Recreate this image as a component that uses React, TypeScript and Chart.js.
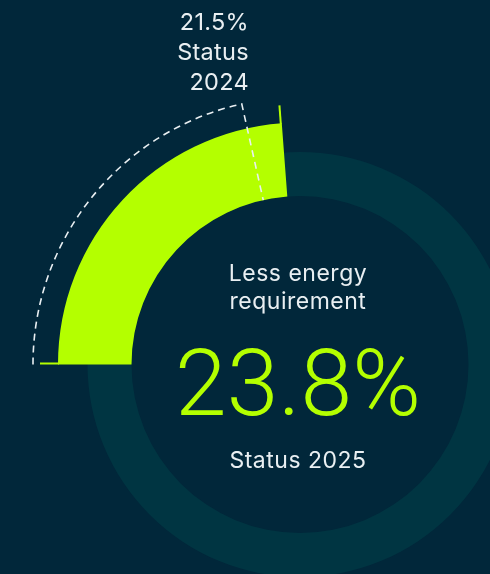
import React, { useEffect, useRef } from "react";
import { Chart, registerables } from "chart.js";

Chart.register(...registerables);

// ---- data ----
const YEARS = ["2024", "2025"];
const REDUCTION_PCT = [21.5, 23.8];
const FULL_SCALE = [100];
const CENTER_TITLE = ["Less energy", "requirement"];

// ---- styles ----
const BG = "#01273a";
const TRACK = "#003542";
const LIME = "#b4ff00";
const TEXT = "#e9eff2";
const FONT = "Inter, 'Open Sans', sans-serif";
const BIG_FONT = "Roboto, Inter, sans-serif";

// ring geometry (px)
const INNER_R = 168.5;
const OUTER_R = [267, 242, 212.5]; // 2024 outline, 2025 arc, track

export default function App() {
  const ref = useRef<HTMLCanvasElement>(null);

  useEffect(() => {
    if (!ref.current) return;
    // weights / radii so that all rings share the same inner radius
    const f0 = (OUTER_R[0] - INNER_R) / OUTER_R[0];
    const r1 = OUTER_R[1] / (1 - f0);
    const f01 = 1 - INNER_R / r1;
    const f1 = f01 - f0;
    const f2 = 1 - f01;
    const r2 = (OUTER_R[2] - INNER_R * f01) / (1 - f01);
    const c2 = INNER_R / r2;

    const outlinePlugin = {
      id: "outline",
      afterDatasetsDraw(chart: any) {
        const ctx = chart.ctx;
        const keys = ["x", "y", "startAngle", "endAngle", "innerRadius", "outerRadius"];
        const p = chart.getDatasetMeta(0).data[0].getProps(keys, true);
        ctx.save();
        ctx.setLineDash([7, 5]);
        ctx.lineWidth = 1.6;
        ctx.strokeStyle = TEXT;
        ctx.beginPath();
        ctx.arc(p.x, p.y, p.outerRadius, p.startAngle, p.endAngle);
        ctx.lineTo(p.x + Math.cos(p.endAngle) * p.innerRadius, p.y + Math.sin(p.endAngle) * p.innerRadius);
        ctx.stroke();
        ctx.restore();

        const g = chart.getDatasetMeta(1).data[0].getProps(keys, true);
        ctx.save();
        ctx.lineWidth = 2;
        ctx.strokeStyle = LIME;
        const edges: [number, number][] = [
          [g.startAngle, 1],
          [g.endAngle, -1],
        ];
        edges.forEach(([a, s]) => {
          const nx = -Math.sin(a) * s;
          const ny = Math.cos(a) * s;
          const r0 = g.outerRadius - 1;
          const r1e = g.outerRadius + 18;
          ctx.beginPath();
          ctx.moveTo(p.x + Math.cos(a) * r0 + nx, p.y + Math.sin(a) * r0 + ny);
          ctx.lineTo(p.x + Math.cos(a) * r1e + nx, p.y + Math.sin(a) * r1e + ny);
          ctx.stroke();
        });
        ctx.restore();
      },
    };

    const chart = new Chart(ref.current, {
      type: "doughnut",
      data: {
        labels: ["reduction", "rest"],
        datasets: [
          {
            label: "Status " + YEARS[0],
            data: [REDUCTION_PCT[0], FULL_SCALE[0] - REDUCTION_PCT[0]],
            backgroundColor: ["rgba(0,0,0,0)", "rgba(0,0,0,0)"],
            borderWidth: 0,
            weight: f0,
            radius: OUTER_R[0],
            cutout: 0,
          } as any,
          {
            label: "Status " + YEARS[1],
            data: [REDUCTION_PCT[1], FULL_SCALE[0] - REDUCTION_PCT[1]],
            backgroundColor: [LIME, "rgba(0,0,0,0)"],
            borderWidth: 0,
            weight: f1,
            radius: r1,
            cutout: 0,
          } as any,
          {
            label: "track",
            data: FULL_SCALE,
            backgroundColor: [TRACK],
            borderWidth: 0,
            weight: f2,
            radius: r2,
            cutout: c2 * 100 + "%",
          } as any,
        ],
      },
      options: {
        responsive: false,
        animation: false,
        devicePixelRatio: 1,
        rotation: -90,
        events: [],
        layout: { padding: { left: 110, top: 155, right: 0, bottom: 0 } },
        plugins: { legend: { display: false }, tooltip: { enabled: false } },
      } as any,
      plugins: [outlinePlugin],
    });
    return () => chart.destroy();
  }, []);

  const txt: React.CSSProperties = {
    position: "absolute",
    color: TEXT,
    fontFamily: FONT,
    whiteSpace: "nowrap",
  };

  return (
    <div style={{ position: "fixed", left: 0, top: 0, width: 490, height: 574, background: BG, overflow: "hidden" }}>
      <canvas ref={ref} width={490} height={574} style={{ position: "absolute", left: 0, top: 0 }} />
      <div style={{ ...txt, right: 241, top: 7, fontSize: 23.5, lineHeight: "30px", textAlign: "right", letterSpacing: 0.3 }}>
        <div>{REDUCTION_PCT[0]}%</div>
        <div>Status</div>
        <div>{YEARS[0]}</div>
      </div>
      <div style={{ ...txt, left: 148, width: 300, top: 259, fontSize: 23, lineHeight: "28px", textAlign: "center", letterSpacing: 0.5 }}>
        {CENTER_TITLE.map((t) => (
          <div key={t}>{t}</div>
        ))}
      </div>
      <div style={{ ...txt, fontFamily: BIG_FONT, left: 148, width: 300, top: 337, fontSize: 93, lineHeight: "93px", fontWeight: 300, color: LIME, textAlign: "center" }}>
        {REDUCTION_PCT[1]}%
      </div>
      <div style={{ ...txt, left: 148, width: 300, top: 446, fontSize: 23, lineHeight: "28px", textAlign: "center", letterSpacing: 0.5 }}>
        Status {YEARS[1]}
      </div>
    </div>
  );
}
